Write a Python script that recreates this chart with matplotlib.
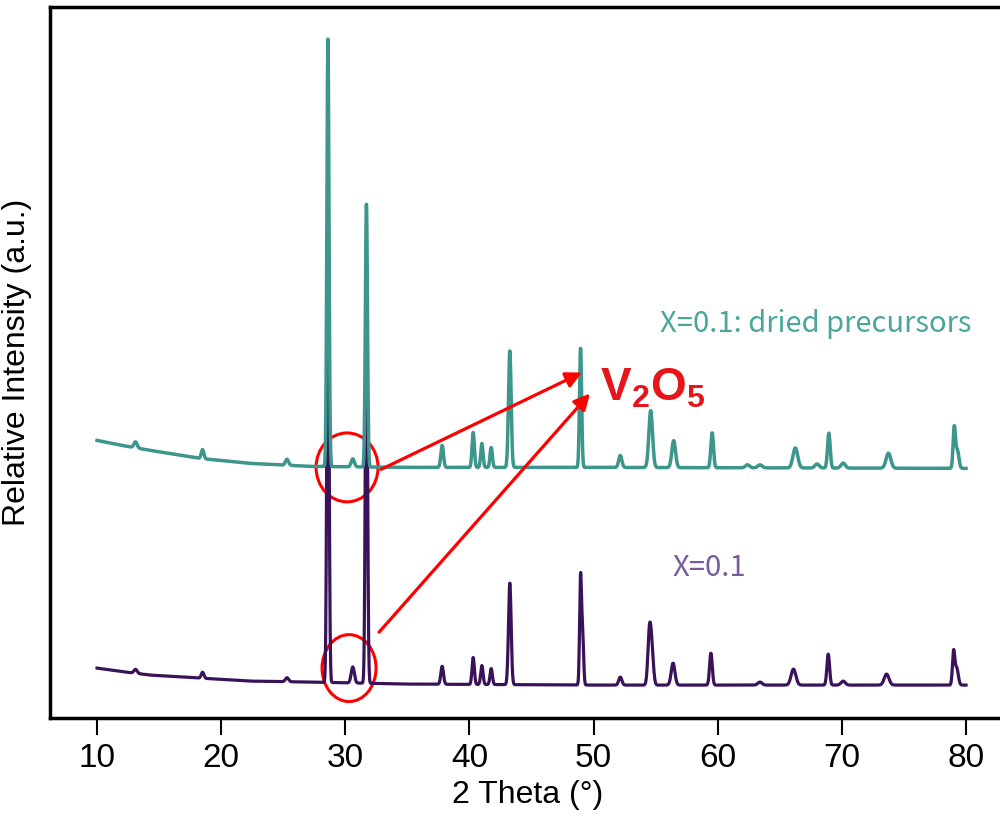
import numpy as np
import matplotlib.pyplot as plt
from matplotlib.patches import Ellipse

plt.rcParams['font.family'] = ['Liberation Sans', 'DejaVu Sans']
plt.rcParams['mathtext.fontset'] = 'custom'
plt.rcParams['mathtext.bf'] = 'Liberation Sans:bold'
plt.rcParams['mathtext.rm'] = 'Liberation Sans'

# background levels (2 theta, intensity)
bg_theta = [10, 12, 14.3, 18.3, 22.3, 27.2, 35, 50, 80]
bg_dried = [278, 273, 268, 260, 255, 252, 251, 251, 250]
bg_x01 = [50, 46.5, 43, 40, 37, 36, 34, 33, 33]

# peak list: position, height above background, width (fwhm)
dried_pos = [13.1, 18.5, 25.3, 28.6, 30.6, 31.7, 37.8, 40.3, 41.0, 41.75, 43.25, 48.95,
             52.15, 54.6, 56.45, 59.55, 62.4, 63.4, 66.25, 68.0, 68.95, 70.1, 73.75, 79.05, 79.3]
dried_h = [6, 9, 6, 428, 8, 263, 22, 35, 24, 20, 117, 120,
           12, 57, 27, 35, 3, 3, 20, 4, 35, 5, 15, 40, 18]
dried_w = [0.3, 0.25, 0.3, 0.2, 0.3, 0.2, 0.25, 0.22, 0.22, 0.22, 0.25, 0.2,
           0.3, 0.35, 0.35, 0.25, 0.4, 0.4, 0.45, 0.4, 0.25, 0.4, 0.45, 0.22, 0.3]

x01_pos = [13.1, 18.5, 25.3, 28.6, 30.6, 31.7, 37.8, 40.3, 41.0, 41.75, 43.25, 48.95, 49.12,
           52.15, 54.5, 54.7, 56.4, 59.45, 63.4, 66.1, 68.9, 70.1, 73.6, 79.0, 79.25]
x01_h = [4, 6, 4, 480, 16, 420, 18, 27, 19, 16, 102, 108, 50,
         8, 52, 30, 22, 32, 3, 16, 31, 4, 11, 33, 17]
x01_w = [0.3, 0.25, 0.3, 0.2, 0.3, 0.2, 0.25, 0.22, 0.22, 0.22, 0.25, 0.18, 0.18,
         0.3, 0.3, 0.3, 0.35, 0.25, 0.4, 0.45, 0.25, 0.4, 0.45, 0.22, 0.3]

theta = np.arange(10, 80.001, 0.02)


def pattern(bg, pos, h, w):
    y = np.interp(theta, bg_theta, bg)
    for p, a, f in zip(pos, h, w):
        s = f / 2.355
        y = y + a * np.exp(-0.5 * ((theta - p) / s) ** 2)
    return y


teal = '#3d968c'
purple = '#3a1259'

fig = plt.figure(figsize=(10, 8.18), dpi=100)
ax = fig.add_axes([0.05, 0.1222, 0.955, 0.8692])

ax.plot(theta, pattern(bg_x01, x01_pos, x01_h, x01_w), color=purple, lw=2.3)
ax.plot(theta, pattern(bg_dried, dried_pos, dried_h, dried_w), color=teal, lw=2.5)

ax.set_xlim(6.21, 83.14)
ax.set_ylim(0, 712)
ax.set_xticks(range(10, 90, 10))
ax.set_yticks([])
ax.tick_params(axis='x', direction='out', length=12, width=1.5, pad=6, labelsize=24)
for sp in ax.spines.values():
    sp.set_linewidth(2.5)
ax.spines['right'].set_visible(False)

ax.set_xlabel('2 Theta (\N{DEGREE SIGN})', fontsize=23, labelpad=4)
ax.set_ylabel('Relative Intensity (a.u.)', fontsize=23, labelpad=13)

# red marks around the V2O5 peaks
ax.add_patch(Ellipse((30.14, 251), 4.99, 69, fill=False, ec='red', lw=2.2))
ax.add_patch(Ellipse((30.30, 50), 4.35, 67, fill=False, ec='red', lw=2.2))
arrow = dict(arrowstyle='-|>', mutation_scale=24, lw=2.3, color='red', shrinkA=0, shrinkB=0)
ax.annotate('', xy=(49.07, 346), xytext=(32.88, 249), arrowprops=arrow)
ax.annotate('', xy=(49.71, 325), xytext=(32.72, 86), arrowprops=arrow)

ax.text(50.52, 318, r'$\mathbf{V_2O_5}$', color='#e8141c', fontsize=33, va='baseline')
ax.text(55.35, 387, 'X=0.1: dried precursors', color='#4aa69a', fontsize=21,
        family=['Noto Sans CJK SC', 'DejaVu Sans'], fontweight='light', va='baseline')
ax.text(56.32, 142, 'X=0.1', color='#7a5c9e', fontsize=21,
        family=['Noto Sans CJK SC', 'DejaVu Sans'], fontweight='light', va='baseline')

fig.savefig('out.png', dpi=100)
